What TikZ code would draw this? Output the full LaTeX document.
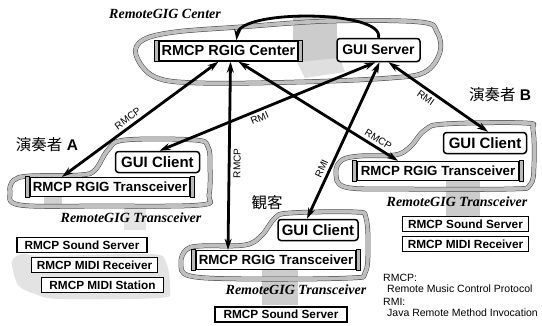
\documentclass[tikz,border=0pt]{standalone}
\usepackage{fontspec}
\setmainfont{Liberation Sans}
\newfontfamily\captionserif{Liberation Serif}
\newfontfamily\cjkfont{Noto Sans CJK JP}
\usetikzlibrary{arrows.meta,calc}

\begin{document}
\begin{tikzpicture}[x=1pt,y=-1pt,
  blob/.style={draw=black!75, line width=0.5pt, double=gray!50, double distance=3.8pt, line join=round},
  halftone/.style={fill=gray!40, draw=none},
  tip/.tip={Stealth[length=11pt,width=7pt]},
  link/.style={line width=2.8pt, tip-tip},
  rgig/.style={draw, line width=1.3pt, fill=white, inner sep=0pt,
    font=\fontsize{13.3}{14}\selectfont\bfseries, minimum height=19pt},
  gui/.style={draw, line width=1.5pt, rounded corners=3pt, fill=white, inner sep=0pt,
    font=\fontsize{15}{16}\selectfont\bfseries, minimum height=21pt},
  subbox/.style={draw, line width=1.2pt, fill=white, inner sep=0pt,
    font=\fontsize{11.8}{12}\selectfont\bfseries, minimum height=15pt},
  caption/.style={font=\captionserif\fontsize{14}{15}\selectfont\bfseries\itshape, inner sep=0pt},
  proto/.style={font=\fontsize{10}{11}\selectfont, inner sep=3pt},
  legend/.style={font=\fontsize{10.5}{12}\selectfont, anchor=west, inner sep=0pt},
  who/.style={font=\fontsize{15.5}{16}\selectfont, inner sep=0pt},
]
\useasboundingbox (0,0) rectangle (542,325);

% halftone machines behind the groups
\fill[halftone] (293,15) rectangle (337,62);
\fill[gray!25] (297,62) -- (340,58) -- (345,72) -- (305,78) -- cycle;
\fill[gray!22] plot[smooth cycle] coordinates {(12,262) (22,254) (45,256) (150,254) (166,262) (170,290) (160,298) (60,299) (35,294) (18,285)};
\fill[gray!35] (44,196) rectangle (62,207);
\fill[gray!20] (124,206) rectangle (146,230);
\fill[halftone] (446,179) rectangle (480,216);
\fill[halftone] (262,270) rectangle (298,305);

% group outlines
\draw[blob] plot[smooth cycle, tension=0.6] coordinates {(136,55) (143,40) (175,32) (240,27) (330,21) (420,22) (437,32) (440,52) (425,72) (390,78) (300,82) (200,83) (155,77)};
\draw[blob] plot[smooth cycle, tension=0.6] coordinates {(10,192) (14,180) (30,176) (80,175) (95,170) (108,150) (125,140) (195,140) (208,147) (210,165) (209,195) (200,205) (100,206) (20,205)};
\draw[blob] plot[smooth cycle, tension=0.6] coordinates {(336,172) (342,160) (360,156) (395,155) (410,147) (425,130) (445,124) (525,123) (533,130) (534,165) (530,185) (510,189) (400,189) (345,187)};
\draw[blob] plot[smooth cycle, tension=0.6] coordinates {(181,263) (186,250) (200,246) (245,245) (262,235) (275,218) (290,213) (355,212) (366,218) (368,250) (365,273) (350,278) (250,279) (190,276)};

% servers and clients
\node[rgig, minimum width=139pt, minimum height=20pt, font=\fontsize{14.5}{15}\selectfont\bfseries] (cen) at (228.5,51) {RMCP RGIG Center};
\node[gui, minimum width=83pt, minimum height=23pt, font=\fontsize{14}{15}\selectfont\bfseries] (gs) at (378.5,50) {GUI Server};
\node[gui, minimum width=84pt] (ga) at (157.5,162) {GUI Client};
\node[rgig, minimum width=160pt] (ta) at (110,187) {RMCP RGIG Transceiver};
\node[gui, minimum width=83pt] (gb) at (485,143) {GUI Client};
\node[rgig, minimum width=162pt] (tb) at (438,171) {RMCP RGIG Transceiver};
\node[gui, minimum width=80pt] (gc) at (318,230) {GUI Client};
\node[rgig, minimum width=160pt] (tc) at (276,260) {RMCP RGIG Transceiver};

% hatched end bars of the RGIG boxes
\foreach \n in {cen,ta,tb,tc}{
  \draw[line width=0.8pt, fill=gray!55] ([xshift=-4pt]\n.south west) rectangle (\n.north west);
  \draw[line width=0.8pt, fill=gray!55] (\n.south east) rectangle ([xshift=4pt]\n.north east);
}

% attached devices
\node[subbox, minimum width=130pt] (ssa) at (82,245) {RMCP Sound Server};
\node[subbox, minimum width=126pt] (mra) at (94.5,265) {RMCP MIDI Receiver};
\node[subbox, minimum width=122pt] (msa) at (102.5,285) {RMCP MIDI Station};
\node[subbox, minimum width=126pt] (ssb) at (465.5,224) {RMCP Sound Server};
\node[subbox, minimum width=126pt] (mrb) at (465.5,244) {RMCP MIDI Receiver};
\node[subbox, minimum width=132pt] (ssc) at (281,314.5) {RMCP Sound Server};

% group captions
\node[caption] (capcen) at (165,14) {RemoteGIG Center};
\node[caption] (capa) at (131,218) {RemoteGIG Transceiver};
\node[caption] (capb) at (457,202) {RemoteGIG Transceiver};
\node[caption] (capc) at (296,290) {RemoteGIG Transceiver};

\node[who] (pa) at (47,145) {{\cjkfont 演奏者} \textbf{A}};
\node[who] (pb) at (500,95) {{\cjkfont 演奏者} \textbf{B}};
\node[who] (aud) at (267,203) {\cjkfont 観客};

% connections
\draw[line width=2.8pt, -tip] (gs.north) .. controls (385,10) and (240,9) .. ([xshift=8pt]cen.north);
\draw[link] ([xshift=-48pt]ta.north) -- node[proto, sloped, above, pos=0.45] {RMCP} ([xshift=-10pt]cen.south);
\draw[link] ([xshift=-48pt]tc.north) -- node[proto, sloped, below, pos=0.46] {RMCP} ([xshift=2pt]cen.south);
\draw[link] ([xshift=10pt]cen.south) -- node[proto, sloped, above, pos=0.85] {RMCP} ([xshift=-40pt]tb.north);
\draw[link] ([xshift=2pt]ga.north) -- node[proto, sloped, below, pos=0.45] {RMI} ([xshift=-3pt]gs.south);
\draw[link] ([xshift=-11pt]gc.north) -- node[proto, sloped, above, pos=0.30] {RMI} ([xshift=1pt]gs.south);
\draw[link] ([xshift=10pt]gs.south) -- node[proto, sloped, below, pos=0.42] {RMI} ([xshift=3pt]gb.north);

% legend
\node[legend] (l1) at (383,278) {RMCP:};
\node[legend] (l2) at (387,289) {Remote Music Control Protocol};
\node[legend] (l3) at (383,302) {RMI:};
\node[legend] (l4) at (387,313) {Java Remote Method Invocation};
\end{tikzpicture}
\end{document}
